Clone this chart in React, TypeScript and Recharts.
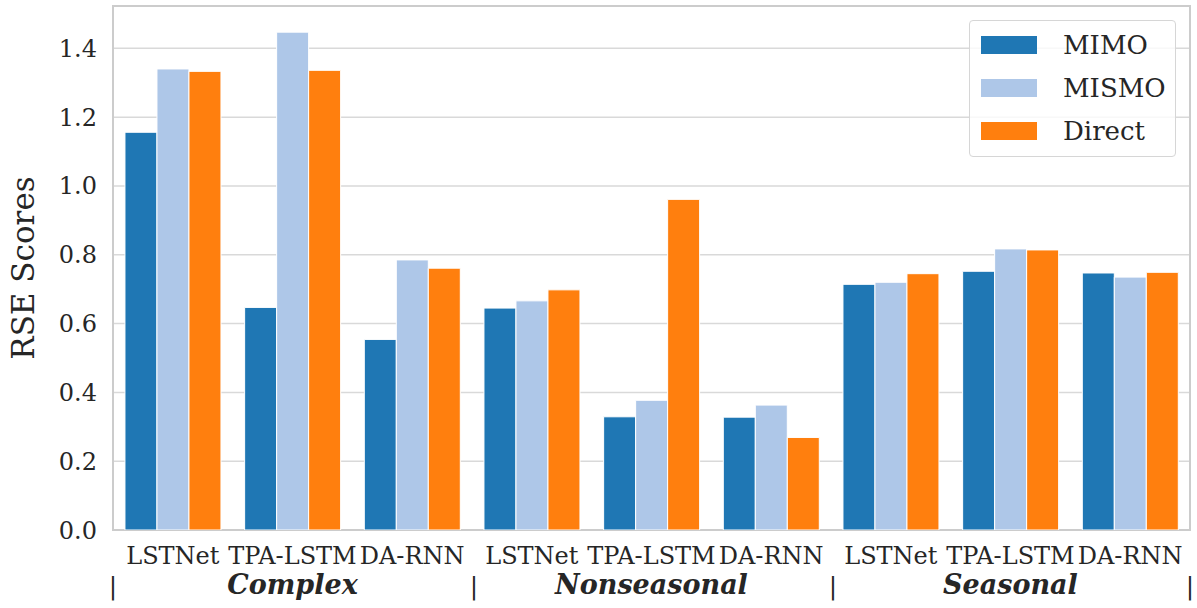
import React from 'react';
import { BarChart, Bar, XAxis, YAxis, CartesianGrid, ReferenceArea, Label } from 'recharts';

const categories = ['LSTNet', 'TPA-LSTM', 'DA-RNN', 'LSTNet', 'TPA-LSTM', 'DA-RNN', 'LSTNet', 'TPA-LSTM', 'DA-RNN'];
const groups = ['Complex', 'Nonseasonal', 'Seasonal'];
const seriesNames = ['MIMO', 'MISMO', 'Direct'];
const mimo = [1.156, 0.647, 0.554, 0.645, 0.329, 0.328, 0.714, 0.752, 0.747];
const mismo = [1.34, 1.447, 0.785, 0.666, 0.377, 0.363, 0.72, 0.817, 0.735];
const direct = [1.333, 1.336, 0.761, 0.698, 0.961, 0.269, 0.745, 0.814, 0.749];
const yTicks = [0, 0.2, 0.4, 0.6, 0.8, 1.0, 1.2, 1.4];
const Y_MAX = 1.523;

const colors = ['#1f77b4', '#aec7e8', '#ff7f0e'];
const FONT = '"DejaVu Serif", serif';
const TEXT = '#262626';

const CHART_W = 1197;
const CHART_H = 608;
const Y_AXIS_W = 113;
const MARGIN = { top: 6, right: 7, bottom: 0, left: 0 };
const BAND = (CHART_W - Y_AXIS_W - MARGIN.right) / categories.length;

const data = categories.map((c, i) => ({
  key: `${groups[Math.floor(i / 3)]}-${c}`,
  MIMO: mimo[i],
  MISMO: mismo[i],
  Direct: direct[i],
}));

const CategoryTick = (props: any) => {
  const { x, y, payload } = props;
  const i: number = props.index ?? payload?.index ?? 0;
  const groupIdx = Math.floor(i / 3);
  return (
    <g>
      <text x={x} y={y + 34} textAnchor="middle" fontFamily={FONT} fontSize={24} fill={TEXT}>
        {categories[i]}
      </text>
      {i % 3 === 1 && (
        <text x={x} y={y + 64} textAnchor="middle" fontFamily={FONT} fontSize={27} fontWeight="bold" fontStyle="italic" fill={TEXT}>
          {groups[groupIdx]}
        </text>
      )}
      {i % 3 === 0 && (
        <text x={x - BAND / 2 + (i === 0 ? 0 : 2)} y={y + 64} textAnchor="middle" fontFamily={FONT} fontSize={25} fill={TEXT}>
          |
        </text>
      )}
      {i === categories.length - 1 && (
        <text x={x + BAND / 2} y={y + 64} textAnchor="middle" fontFamily={FONT} fontSize={25} fill={TEXT}>
          |
        </text>
      )}
    </g>
  );
};

const LegendBox = () => (
  <div
    style={{
      position: 'absolute',
      left: 969,
      top: 20,
      width: 207,
      height: 137,
      boxSizing: 'border-box',
      border: '1.5px solid #d6d6d6',
      borderRadius: 4,
      background: 'rgba(255,255,255,0.8)',
    }}
  >
    {seriesNames.map((name, k) => (
      <div key={name} style={{ position: 'absolute', left: 0, top: 24 + k * 43 - 15, height: 30, display: 'flex', alignItems: 'center' }}>
        <div style={{ marginLeft: 11, width: 56, height: 18, background: colors[k] }} />
        <span style={{ marginLeft: 26, fontFamily: FONT, fontSize: 26, color: TEXT, lineHeight: '30px' }}>{name}</span>
      </div>
    ))}
  </div>
);

export default function App() {
  return (
    <div style={{ position: 'absolute', left: 0, top: 0, width: CHART_W, height: CHART_H, background: '#fff' }}>
      <BarChart
        width={CHART_W}
        height={CHART_H}
        data={data}
        margin={MARGIN}
        barCategoryGap="10%"
        barGap={0}
      >
        <CartesianGrid horizontal vertical={false} stroke="#d9d9d9" strokeWidth={1.5} />
        <XAxis
          dataKey="key"
          height={CHART_H - MARGIN.top - MARGIN.bottom - 524}
          axisLine={false}
          tickLine={false}
          tickSize={0}
          tickMargin={0}
          interval={0}
          tick={<CategoryTick />}
        />
        <YAxis
          width={Y_AXIS_W}
          domain={[0, Y_MAX]}
          ticks={yTicks}
          allowDataOverflow
          axisLine={false}
          tickLine={false}
          tickSize={0}
          tickMargin={16}
          tickFormatter={(v: number) => v.toFixed(1)}
          tick={{ fontFamily: FONT, fontSize: 24, fill: TEXT }}
        >
          <Label
            value="RSE Scores"
            angle={-90}
            position="insideLeft"
            offset={23}
            style={{ fontFamily: FONT, fontSize: 31, fill: TEXT, textAnchor: 'middle' }}
          />
        </YAxis>
        {seriesNames.map((name, k) => (
          <Bar key={name} dataKey={name} fill={colors[k]} stroke="#ffffff" strokeWidth={1} isAnimationActive={false} />
        ))}
        <ReferenceArea y1={0} y2={Y_MAX} fill="none" stroke="#cccccc" strokeWidth={2} ifOverflow="visible" />
      </BarChart>
      <LegendBox />
    </div>
  );
}
